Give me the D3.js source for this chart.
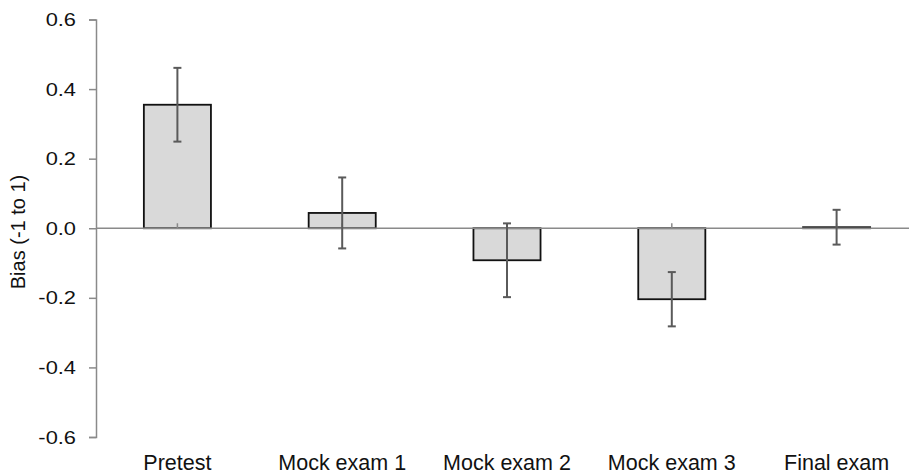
<!DOCTYPE html>
<html>
<head>
<meta charset="utf-8">
<script src="https://cdn.jsdelivr.net/npm/d3@7"></script>
<style>
  body { margin: 0; background: #fff; }
  text { font-family: "Liberation Sans", Arial, sans-serif; fill: #111; }
</style>
</head>
<body>
<div id="chart"></div>
<script>
// data
const categories = ["Pretest", "Mock exam 1", "Mock exam 2", "Mock exam 3", "Final exam"];
const bias = [0.355, 0.044, -0.092, -0.204, 0.003];
const errors = [0.106, 0.102, 0.106, 0.078, 0.050];
const yTicks = [-0.6, -0.4, -0.2, 0.0, 0.2, 0.4, 0.6];

const width = 909
const height = 475

var svg = d3.select("#chart")
    .append("svg")
    .attr("width", width)
    .attr("height", height);

// scales
var x = d3.scaleBand()
    .domain(categories)
    .range([95, 919])
    .paddingInner(0.593)
    .paddingOuter(0.2965);

var y = d3.scaleLinear()
    .domain([-0.6, 0.6])
    .range([437, 19.5]);

var axisColor = "#8a8a8a";

// y axis (plain hyphen for negatives, like the original)
var yAxis = svg.append("g")
    .attr("transform", "translate(96,0)")
    .call(d3.axisLeft(y).tickValues(yTicks).tickSize(7).tickFormat(d => d.toFixed(1)));
yAxis.select(".domain").attr("stroke", axisColor).attr("stroke-width", 1.5);
yAxis.selectAll(".tick line").attr("stroke", axisColor).attr("stroke-width", 1.5);
yAxis.selectAll(".tick text")
    .attr("x", -20 / 1.15)
    .attr("transform", "scale(1.15,1)")
    .style("font-size", "19px")
    .style("fill", "#111");

// bars
svg.selectAll(".bar")
    .data(bias)
    .enter()
    .append("rect")
    .attr("class", "bar")
    .attr("x", (d, i) => x(categories[i]))
    .attr("width", x.bandwidth())
    .attr("y", d => y(Math.max(0, d)))
    .attr("height", d => Math.abs(y(d) - y(0)))
    .attr("fill", "#d9d9d9")
    .attr("stroke", "#111")
    .attr("stroke-width", 1.8);

// zero line
svg.append("line")
    .attr("x1", 96).attr("x2", width)
    .attr("y1", y(0)).attr("y2", y(0))
    .attr("stroke", axisColor)
    .attr("stroke-width", 1.5);

// category ticks (small marks at centres, pointing up)
svg.selectAll(".ctick")
    .data(categories)
    .enter()
    .append("line")
    .attr("x1", d => x(d) + x.bandwidth() / 2)
    .attr("x2", d => x(d) + x.bandwidth() / 2)
    .attr("y1", y(0))
    .attr("y2", y(0) - 5)
    .attr("stroke", axisColor)
    .attr("stroke-width", 1.5);

// error bars
var eb = svg.selectAll(".err")
    .data(bias)
    .enter()
    .append("g")
    .attr("transform", (d, i) => "translate(" + (x(categories[i]) + x.bandwidth() / 2) + ",0)");
eb.append("line")
    .attr("y1", (d, i) => y(d + errors[i]))
    .attr("y2", (d, i) => y(d - errors[i]))
    .attr("stroke", "#5a5a5a").attr("stroke-width", 2);
eb.append("line")
    .attr("x1", -4).attr("x2", 4)
    .attr("y1", (d, i) => y(d + errors[i]))
    .attr("y2", (d, i) => y(d + errors[i]))
    .attr("stroke", "#5a5a5a").attr("stroke-width", 2);
eb.append("line")
    .attr("x1", -4).attr("x2", 4)
    .attr("y1", (d, i) => y(d - errors[i]))
    .attr("y2", (d, i) => y(d - errors[i]))
    .attr("stroke", "#5a5a5a").attr("stroke-width", 2);

// category labels
svg.selectAll(".clabel")
    .data(categories)
    .enter()
    .append("text")
    .attr("x", d => x(d) + x.bandwidth() / 2)
    .attr("y", 470)
    .attr("text-anchor", "middle")
    .style("font-size", "21.5px")
    .text(d => d);

// y title
svg.append("text")
    .attr("transform", "translate(25,232) rotate(-90)")
    .attr("text-anchor", "middle")
    .style("font-size", "20px")
    .text("Bias (-1 to 1)");
</script>
</body>
</html>
